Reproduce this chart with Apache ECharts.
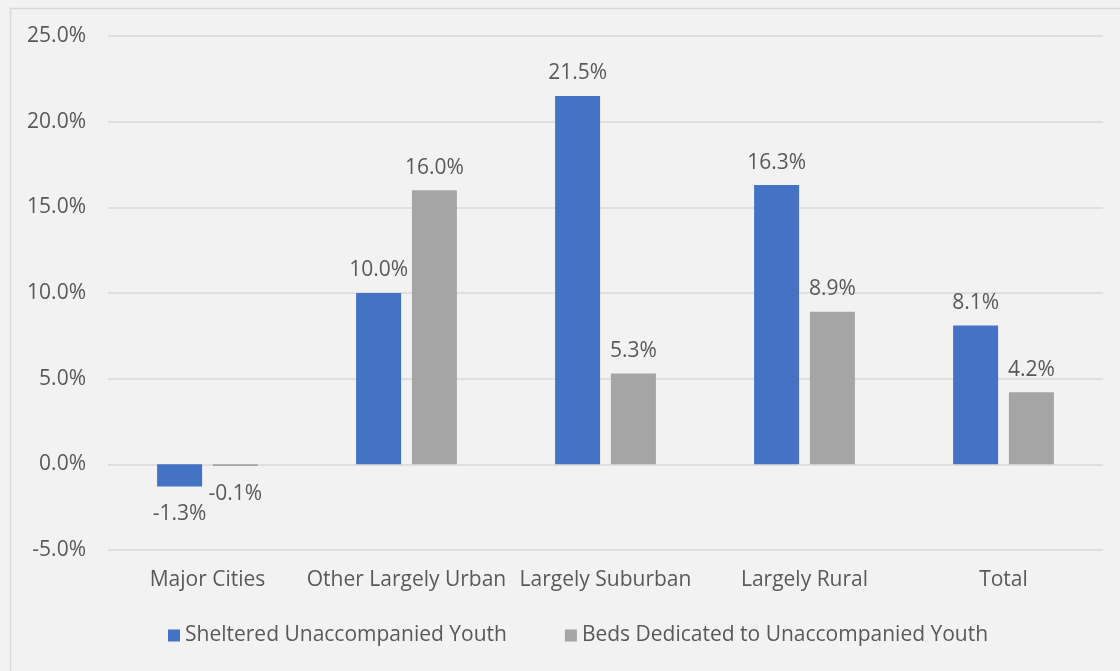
<!DOCTYPE html>
<html>
<head>
<meta charset="utf-8">
<title>Change in Sheltered Unaccompanied Youth and Dedicated Beds</title>
<script src="https://cdn.jsdelivr.net/npm/echarts@6/dist/echarts.min.js"></script>
<style>
  html, body { margin: 0; padding: 0; background: #f2f2f2; }
  #chart { width: 1120px; height: 671px; }
</style>
</head>
<body>
<div id="chart"></div>
<script>
// Geography categories along the x axis
const categories = ['Major Cities', 'Other Largely Urban', 'Largely Suburban', 'Largely Rural', 'Total'];

// Percent change by geography
const shelteredYouth = [-1.3, 10.0, 21.5, 16.3, 8.1];
const dedicatedBeds = [-0.1, 16.0, 5.3, 8.9, 4.2];

const seriesNames = ['Sheltered Unaccompanied Youth', 'Beds Dedicated to Unaccompanied Youth'];

// Value axis range and step
const yMin = -5;
const yMax = 25;
const yStep = 5;

const textColor = '#595959';
const fontFamily = '"Open Sans", "Noto Sans", sans-serif';
const fontSize = 21;

// Negative values get their label under the bar end, positive ones above
function withLabels(values) {
  return values.map(v => ({
    value: v,
    label: v < 0 ? { position: 'bottom', distance: 17 } : { position: 'top', distance: 12 }
  }));
}

const chart = echarts.init(document.getElementById('chart'), null, { renderer: 'canvas' });

const valueLabel = {
  show: true,
  fontSize: fontSize,
  color: textColor,
  fontFamily: fontFamily,
  formatter: p => p.value.toFixed(1) + '%'
};

chart.setOption({
  backgroundColor: '#f2f2f2',
  animation: false,
  textStyle: { fontFamily: fontFamily, color: textColor },
  graphic: [{
    type: 'rect',
    shape: { x: 10.5, y: 8.5, width: 1130, height: 680 },
    style: { fill: 'none', stroke: '#d9d9d9', lineWidth: 1.5 },
    silent: true,
    z: -1
  }],
  grid: { left: 108, right: 17, top: 36, bottom: 121, containLabel: false },
  legend: {
    left: 163,
    top: 620,
    itemWidth: 12,
    itemHeight: 12,
    itemGap: 58,
    icon: 'rect',
    textStyle: { fontFamily: fontFamily, fontSize: fontSize, color: textColor },
    data: seriesNames
  },
  xAxis: {
    type: 'category',
    data: categories,
    axisLine: { show: false, onZero: false },
    axisTick: { show: false },
    axisLabel: {
      interval: 0,
      hideOverlap: false,
      fontSize: fontSize,
      color: textColor,
      fontFamily: fontFamily,
      margin: 20
    },
    splitLine: { show: false }
  },
  yAxis: {
    type: 'value',
    min: yMin,
    max: yMax,
    interval: yStep,
    axisLine: { show: false },
    axisTick: { show: false },
    axisLabel: {
      fontSize: fontSize,
      color: textColor,
      fontFamily: fontFamily,
      margin: 22,
      formatter: v => v.toFixed(1) + '%'
    },
    splitLine: { lineStyle: { color: '#d9d9d9', width: 1.5 } }
  },
  series: [
    {
      name: seriesNames[0],
      type: 'bar',
      data: withLabels(shelteredYouth),
      barWidth: 45,
      barGap: '24%',
      itemStyle: { color: '#4472c4' },
      label: valueLabel
    },
    {
      name: seriesNames[1],
      type: 'bar',
      data: withLabels(dedicatedBeds),
      barWidth: 45,
      barGap: '24%',
      itemStyle: { color: '#a5a5a5' },
      label: valueLabel
    }
  ]
});
</script>
</body>
</html>
